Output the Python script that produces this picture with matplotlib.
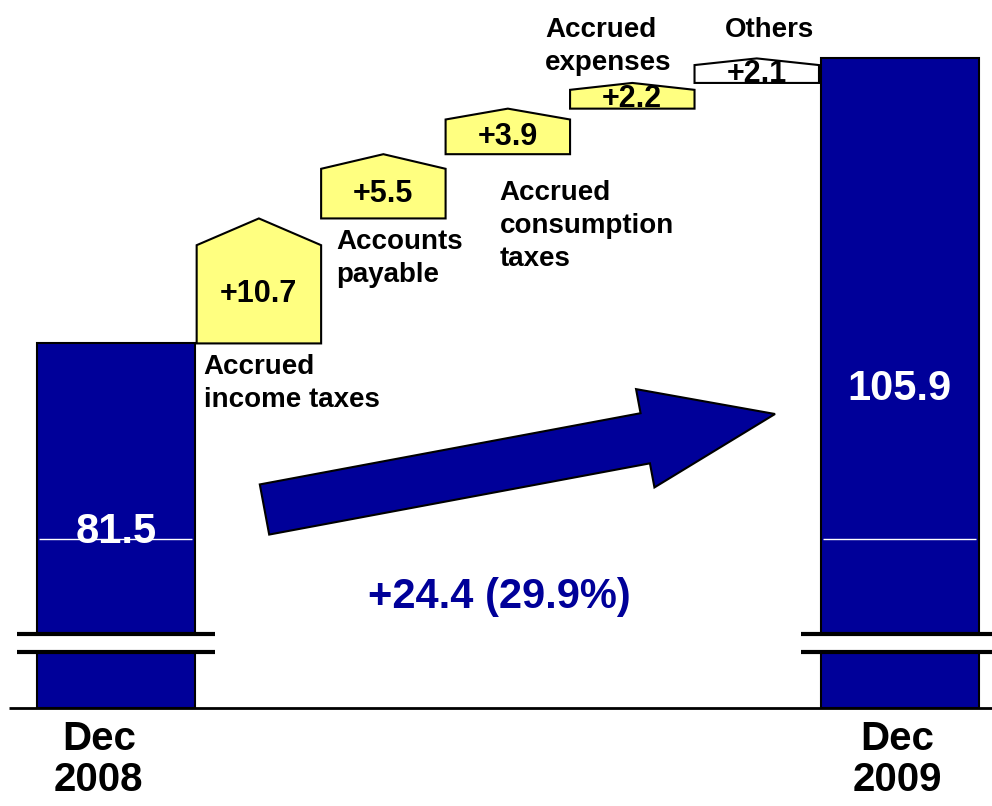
import numpy as np
import matplotlib.pyplot as plt
from matplotlib.patches import Polygon, FancyArrow
from matplotlib.transforms import Affine2D

plt.rcParams['font.family'] = ['Liberation Sans', 'DejaVu Sans']
plt.rcParams['font.weight'] = 'bold'

# data
period_labels = ['Dec\n2008', 'Dec\n2009']
period_values = [81.5, 105.9]
item_labels = ['Accrued\nincome taxes', 'Accounts\npayable',
               'Accrued\nconsumption\ntaxes', 'Accrued\nexpenses', 'Others']
item_deltas = [10.7, 5.5, 3.9, 2.2, 2.1]
item_colors = ['#FFFF80', '#FFFF80', '#FFFF80', '#FFFF80', 'white']

NAVY = '#000099'
W, H = 992, 806

fig = plt.figure(figsize=(W / 100, H / 100), dpi=100)
ax = fig.add_axes([0, 0, 1, 1])
ax.set_xlim(-1.08, 6.89)
ax.set_ylim(41.9, 110.9)
ax.axis('off')

# pixel transform (origin top-left) for the free drawn bits
px = Affine2D().scale(1 / W, -1 / H).translate(0, 1) + fig.transFigure

floor = 50.25          # where the cut bars stand
cut = (55.05, 56.6)    # axis break band
bar_x = [-0.15, 6.15]
bar_w = 1.27

ax.bar(bar_x, np.array(period_values) - floor, bottom=floor, width=bar_w,
       color=NAVY, edgecolor='black', linewidth=1.5, zorder=2)

for x in bar_x:
    ax.hlines(64.8, x - bar_w / 2 + 0.02, x + bar_w / 2 - 0.02, color='white', lw=1, zorder=3)
    lo, hi = x - bar_w / 2 - 0.16, x + bar_w / 2 + 0.16
    ax.fill_between([lo, hi], cut[0], cut[1], color='white', zorder=4)
    ax.hlines(cut, lo, hi, color='black', lw=3, zorder=5)

ax.hlines(floor, -1.01, 6.89, color='black', lw=2, zorder=6)

# value labels in the bars and the period labels underneath
label_drop = [-200, -342]
label_shift = [-17, -3]
for x, v, lab, dy, dx in zip(bar_x, period_values, period_labels, label_drop, label_shift):
    ax.annotate(f'{v:.1f}', xy=(x, v), xytext=(0, dy), textcoords='offset pixels',
                ha='center', va='baseline', color='white', fontsize=30, zorder=7)
    ax.annotate(lab, xy=(x, floor), xytext=(dx, -12), textcoords='offset pixels',
                ha='center', va='top', fontsize=29, linespacing=1.1,
                multialignment='center', annotation_clip=False)

# house shaped steps
levels = period_values[0] + np.concatenate([[0], np.cumsum(item_deltas)])
for i, d in enumerate(item_deltas):
    x = i + 1
    b, t = levels[i], levels[i + 1]
    roof = 0.2 * d + 0.15
    pts = [(x - 0.5, b), (x + 0.5, b), (x + 0.5, t - roof), (x, t), (x - 0.5, t - roof)]
    ax.add_patch(Polygon(pts, closed=True, facecolor=item_colors[i],
                         edgecolor='black', lw=1.5, zorder=3))
    ax.text(x, (b + t - roof) / 2, f'+{d:.1f}', ha='center', va='center',
            fontsize=22, zorder=4)

# category names: three below their box, two at the top
below_dx = [7, 15, 54]
below_dy = [-11, -11, -26]
for i in range(3):
    ax.annotate(item_labels[i], xy=(i + 0.5, levels[i]), xytext=(below_dx[i], below_dy[i]),
                textcoords='offset pixels', ha='left', va='top', fontsize=20,
                linespacing=1.35)
above_dx = [-25, 30]
for k, i in enumerate([3, 4]):
    ax.annotate(item_labels[i], xy=(i + 0.5, 1), xycoords=('data', 'axes fraction'),
                xytext=(above_dx[k], -17), textcoords='offset pixels',
                ha='left', va='top', fontsize=20, linespacing=1.35)

# big arrow and total change
arrow = FancyArrow(264.5, 509.5, 510.5, -95.5, width=51, head_width=100,
                   head_length=132, length_includes_head=True, transform=px,
                   facecolor=NAVY, edgecolor='black', lw=1.5, zorder=5)
ax.add_patch(arrow)

change = period_values[1] - period_values[0]
pct = change / period_values[0] * 100
ax.text(499, 608, f'+{change:.1f} ({pct:.1f}%)', transform=px, ha='center',
        va='baseline', color=NAVY, fontsize=30)

fig.savefig('out.png', dpi=100)
